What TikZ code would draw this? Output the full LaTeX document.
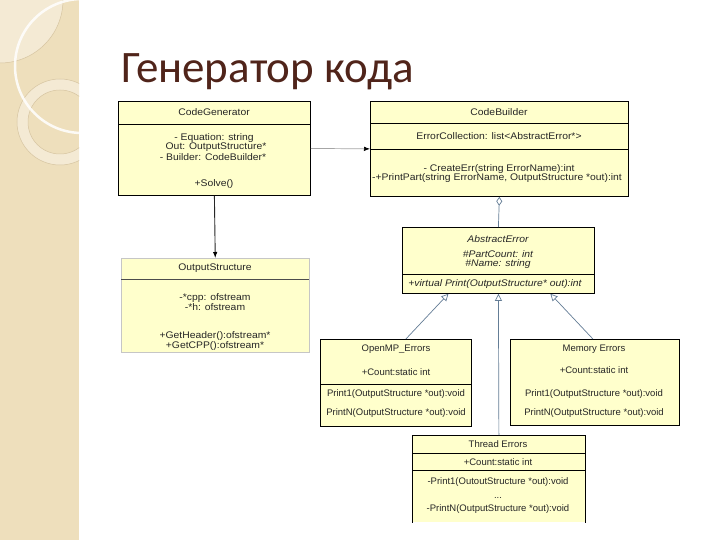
\documentclass[tikz,border=0pt]{standalone}
\usepackage{fontspec}
\usetikzlibrary{arrows.meta}
\newfontfamily\umlfamily[FakeStretch=1.08]{Liberation Sans}
\newfontfamily\umlnarrow{Liberation Sans}
\newfontfamily\titlefamily{Carlito}
\definecolor{umlfill}{RGB}{255,255,204}
\definecolor{strip}{RGB}{238,223,188}
\definecolor{striplight}{RGB}{244,234,212}
\definecolor{stripline}{RGB}{214,196,160}
\definecolor{titlecol}{RGB}{80,36,26}
\definecolor{slate}{RGB}{100,125,150}
\tikzset{
  umlbox/.style={draw=black, line width=0.8pt, fill=umlfill, inner sep=0pt, anchor=north west},
  txt/.style={font=\umlfamily\fontsize{9.6}{10}\selectfont, inner sep=0pt, text=black!85},
  ntxt/.style={font=\umlnarrow\fontsize{9.5}{10}\selectfont, inner sep=0pt, text=black!85},
  itxt/.style={txt, font=\umlfamily\itshape\fontsize{9.6}{10}\selectfont},
  divider/.style={draw=black, line width=0.8pt},
  assoc/.style={draw=gray!70, line width=0.7pt, -{Latex[black,length=6pt,width=4.5pt]}},
  dep/.style={draw=black!85, line width=0.9pt, -{Latex[black,length=6pt,width=4.5pt]}},
  agg/.style={draw=slate, line width=0.7pt, {Diamond[open,length=9pt,width=6pt]}-},
  inh/.style={draw=slate, line width=0.7pt, -{Triangle[open,length=7pt,width=7pt]}}
}
\begin{document}
\begin{tikzpicture}[x=1pt,y=-1pt]
\useasboundingbox (0,0) rectangle (720,540);
\fill[white] (0,0) rectangle (720,540);
% left decorative strip
\fill[strip] (0,0) rectangle (79,540);
\begin{scope}
  \clip (0,0) rectangle (79,540);
  \fill[striplight] (0,0) -- (63,0) arc[start angle=0, end angle=90, radius=63] -- cycle;
  \draw[stripline, line width=0.5pt] (63,0) arc[start angle=0, end angle=90, radius=63];
  \fill[striplight, even odd rule] (60,122) circle[radius=43] (60,122) circle[radius=32];
  \draw[stripline, line width=0.5pt] (60,122) circle[radius=43];
  \draw[stripline, line width=0.5pt] (60,122) circle[radius=32];
  \draw[white, line width=2.5pt, opacity=0.85] (82,66) circle[radius=67];
\end{scope}
% title
\node[anchor=base west, inner sep=0pt, text=titlecol, font=\titlefamily\fontsize{45}{50}\selectfont] (title) at (121,83) {Генератор кода};
% CodeGenerator
\node[umlbox, minimum width=192pt, minimum height=94pt] (cg) at (118,101) {};
\draw[divider] (118,124) -- (310,124);
\node[txt] (cgn) at (214,112) {CodeGenerator};
\node[txt] (cg1) at (214,138) {- Equation: string};
\node[txt] (cg2) at (216,147.5) {Out: OutputStructure*};
\node[txt] (cg3) at (213,157) {- Builder: CodeBuilder*};
\node[txt] (cg4) at (214,184) {+Solve()};
% CodeBuilder
\node[umlbox, minimum width=258pt, minimum height=95pt] (cb) at (370,101) {};
\draw[divider] (370,123) -- (628,123);
\draw[divider] (370,149) -- (628,149);
\node[txt] (cbn) at (499,112) {CodeBuilder};
\node[txt] (cb1) at (499,136) {ErrorCollection: list<AbstractError*>};
\node[txt] (cb2) at (499,169) {- CreateErr(string ErrorName):int};
\node[txt] (cb3) at (497,178.5) {-+PrintPart(string ErrorName, OutputStructure *out):int};
% AbstractError
\node[umlbox, minimum width=192pt, minimum height=66pt] (ae) at (402,227) {};
\draw[divider] (402,274) -- (594,274);
\node[itxt] (aen) at (498,239) {AbstractError};
\node[itxt] (ae1) at (498,254.5) {\#PartCount: int};
\node[itxt] (ae2) at (498,264.5) {\#Name: string};
\node[itxt] (ae3) at (495,284) {+virtual Print(OutputStructure* out):int};
% OutputStructure
\node[umlbox, draw=gray!45, line width=0.5pt, minimum width=188pt, minimum height=94pt] (os) at (121,258) {};
\draw[divider, draw=black!70, line width=0.6pt] (121,279) -- (309,279);
\node[txt] (osn) at (215,268) {OutputStructure};
\node[txt] (os1) at (215,298) {-*cpp: ofstream};
\node[txt] (os2) at (215,307) {-*h: ofstream};
\node[txt] (os3) at (215,336) {+GetHeader():ofstream*};
\node[txt] (os4) at (215,346) {+GetCPP():ofstream*};
% OpenMP_Errors
\node[umlbox, minimum width=151pt, minimum height=87pt] (om) at (320,339) {};
\draw[divider] (320,384) -- (471,384);
\node[ntxt] (omn) at (396,349) {OpenMP\_Errors};
\node[ntxt] (om1) at (396,372) {+Count:static int};
\node[ntxt] (om2) at (396,394) {Print1(OutputStructure *out):void};
\node[ntxt] (om3) at (396,413) {PrintN(OutputStructure *out):void};
% Memory Errors
\node[umlbox, minimum width=169pt, minimum height=86pt] (me) at (510,339) {};
\node[ntxt] (men) at (594,349) {Memory Errors};
\node[ntxt] (me1) at (594,370) {+Count:static int};
\node[ntxt] (me2) at (594,394) {Print1(OutputStructure *out):void};
\node[ntxt] (me3) at (594,413) {PrintN(OutputStructure *out):void};
% Thread Errors
\node[umlbox, draw=none, minimum width=173pt, minimum height=87pt] (te) at (412,435) {};
\draw[divider] (te.south west) -- (te.north west) -- (te.north east) -- (te.south east);
\draw[divider] (412,453) -- (585,453);
\draw[divider] (412,470) -- (585,470);
\node[ntxt] (ten) at (498,444) {Thread Errors};
\node[ntxt] (te1) at (498,462) {+Count:static int};
\node[ntxt] (te2) at (498,482) {-Print1(OutoutStructure *out):void};
\node[ntxt] (te3) at (498,498) {...};
\node[ntxt] (te4) at (498,509) {-PrintN(OutputStructure *out):void};
% connectors
\draw[assoc] (cg.east) -- (cb.west);
\draw[dep] (cg.south) -- (os.north);
\draw[agg] (cb.south) -- (ae.north);
\draw[inh] ([xshift=10pt]om.north) -- ([xshift=-50pt]ae.south);
\draw[inh] ([xshift=-2pt]me.north) -- ([xshift=52pt]ae.south);
\draw[inh] (te.north) -- (ae.south);
\end{tikzpicture}
\end{document}
